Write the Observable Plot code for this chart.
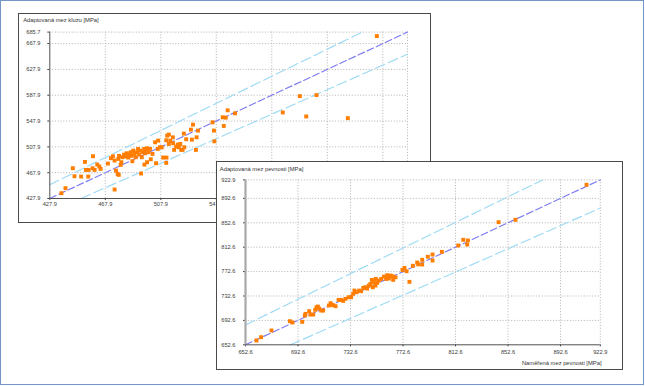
<!DOCTYPE html>
<html><head><meta charset="utf-8">
<script src="https://cdn.jsdelivr.net/npm/d3@7"></script>
<script src="https://cdn.jsdelivr.net/npm/@observablehq/plot@0.6"></script>
<style>
html,body{margin:0;padding:0;background:#fff;}
#page{position:relative;width:645px;height:386px;overflow:hidden;background:#fff;}
#border{position:absolute;left:0;top:0;width:644px;height:384.5px;box-sizing:border-box;border:1.5px solid #7396c6;}
.chart{position:absolute;background:#fff;}
.chart svg{display:block;outline:1.2px solid #4a4a4a;outline-offset:-1.2px;}
</style></head><body>
<div id="page"><div id="border"></div><div id="c1" class="chart" style="left:18px;top:13px"></div><div id="c2" class="chart" style="left:216px;top:161px"></div></div>
<script>
const kluzTicks = [427.9, 467.9, 507.9, 547.9, 587.9, 627.9, 667.9, 685.7];
const pevTicks = [652.6, 692.6, 732.6, 772.6, 812.6, 852.6, 892.6, 922.9];
const bandRatios = [0.95, 1, 1.05];
const kluzTitle = "Adaptovaná mez kluzu [MPa]";
const pevTitle = "Adaptovaná mez pevnosti [MPa]";
const pevXLabel = "Naměřená mez pevnosti [MPa]";

const kluzMeasured = [436.3,439.2,444.5,445.7,450.5,453.2,453.9,455.9,455.6,459.0,458.7,460.2,462.1,463.6,464.5,469.8,472.0,473.4,474.6,475.6,476.8,477.6,474.6,477.3,477.8,479.0,479.5,480.2,481.4,482.6,483.3,484.5,485.0,486.2,486.9,487.4,488.1,488.9,489.8,490.8,491.5,492.2,493.0,493.7,494.2,494.9,495.9,496.6,497.3,498.0,499.0,500.2,496.1,498.0,500.7,501.9,504.5,503.8,506.0,505.7,507.2,508.6,509.6,512.0,511.8,511.8,512.5,513.7,513.7,514.7,516.6,516.8,517.5,519.0,520.2,520.9,521.9,522.6,523.6,524.5,524.8,526.2,529.6,530.3,531.1,533.2,533.7,534.7,545.2,546.2,546.5,552.5,553.3,554.7,556.1,561.4,595.8,608.1,612.7,620.1,642.7,663.6];
const kluzAdapted = [436.1,443.9,474.8,462.4,461.9,484.6,472.2,472.2,461.9,493.4,474.8,472.2,480.5,477.4,473.8,482.0,490.3,493.4,441.8,471.2,466.0,464.5,486.7,489.2,493.9,480.0,484.1,491.8,495.9,492.8,498.0,491.3,495.9,499.6,493.9,485.6,502.1,497.0,491.8,499.6,504.7,495.9,502.1,466.6,491.8,499.6,504.7,498.0,503.2,505.7,499.6,504.7,480.5,484.1,488.7,497.0,482.5,515.0,517.6,504.7,507.3,507.3,491.3,491.3,483.1,518.1,525.3,526.9,512.4,517.6,522.7,513.5,503.2,508.3,511.4,507.3,512.4,503.2,503.2,528.4,507.3,519.7,534.6,519.1,542.3,503.2,522.7,533.1,545.9,533.1,516.5,553.7,540.3,553.2,564.5,559.9,561.2,586.5,555.0,588.1,552.4,679.5];

const pevMeasured = [661.0,664.5,672.4,686.4,688.4,695.8,697.8,698.3,701.1,702.1,704.2,705.7,706.7,707.7,708.7,710.3,711.8,716.1,717.4,718.1,719.4,721.2,723.5,725.5,727.0,728.8,731.3,733.1,734.6,735.6,737.2,739.2,740.7,742.3,744.0,745.3,746.6,747.8,748.9,749.6,750.4,751.6,751.9,752.9,754.2,756.0,758.0,759.8,760.5,761.8,763.1,764.6,765.1,766.9,772.2,773.7,775.3,777.5,780.1,783.4,784.2,787.2,787.2,791.5,795.1,795.1,802.2,814.7,818.5,821.5,822.0,845.4,858.3,912.4];
const pevAdapted = [659.7,665.1,676.1,691.3,689.2,690.2,700.6,703.3,707.7,702.2,702.2,709.9,714.2,715.3,712.1,708.8,708.8,717.0,720.8,718.6,717.5,715.9,726.2,726.2,724.6,727.9,730.6,730.6,736.1,741.5,738.8,741.5,740.4,745.9,747.0,744.8,749.7,752.4,759.0,747.0,755.2,749.7,760.6,754.1,757.9,760.6,764.4,760.6,766.6,761.2,766.1,765.0,759.0,763.3,775.3,778.6,773.2,755.8,782.1,787.5,784.5,791.9,784.2,796.9,800.6,790.8,805.0,815.4,824.7,817.0,823.6,853.6,857.5,914.9];

function makeChart(o) {
  const ticks = o.ticks, lo = ticks[0], hi = ticks[ticks.length - 1];
  const pts = o.xs.map((x, i) => ({x, y: o.ys[i]}));
  const fmt = d => d.toFixed(1);
  const lineMarks = bandRatios.map(r => {
    const x0 = Math.max(lo, lo / r), x1 = Math.min(hi, hi / r);
    const seg = [[x0, r * x0], [x1, r * x1]];
    return Plot.line(seg, {x: d => d[0], y: d => d[1],
      stroke: r === 1 ? "#7b7af2" : "#9cdaf5",
      strokeWidth: 1.15,
      strokeDasharray: r === 1 ? "7,3" : "10,4"});
  });
  const marks = [
    Plot.ruleX(ticks.slice(1), {stroke: "#b9b9b9", strokeDasharray: "1.1,1.7"}),
    Plot.ruleY(ticks.slice(1), {stroke: "#b9b9b9", strokeDasharray: "1.1,1.7"}),
    ...lineMarks,
    Plot.ruleY([lo], {stroke: "#505050", strokeWidth: 1}),
    Plot.ruleX([lo], o.yAxisStyle),
    Plot.dot(pts, {x: "x", y: "y", symbol: "square", r: 2.2, fill: "#ff7d00", stroke: "none"}),
    Plot.text([o.title], {text: d => d, frameAnchor: "top-left", textAnchor: "start", lineAnchor: "middle", dx: o.titleDx, dy: o.titleDy, fontSize: 5.8, fill: "#333"})
  ];
  if (o.xLabel) marks.push(Plot.text([o.xLabel], {text: d => d, frameAnchor: "bottom-right", textAnchor: "end", lineAnchor: "middle", dx: o.xLabelDx, dy: o.xLabelDy, fontSize: 5.8, fill: "#333"}));
  return Plot.plot({
    width: o.width, height: o.height,
    marginLeft: o.ml, marginRight: o.mr, marginTop: o.mt, marginBottom: o.mb,
    style: {fontFamily: "'Liberation Sans', Arial, sans-serif", fontSize: "5.7px", color: "#404040", background: "white"},
    x: {domain: [lo, hi], ticks, tickFormat: fmt, tickSize: 2, tickPadding: o.xPad, label: null},
    y: {domain: [lo, hi], ticks, tickFormat: fmt, tickSize: 2, tickPadding: o.yPad, label: null},
    marks
  });
}

document.getElementById("c1").appendChild(makeChart({
  width: 413, height: 210, ml: 31.3, mr: 24, mt: 18.6, mb: 25,
  ticks: kluzTicks, xs: kluzMeasured, ys: kluzAdapted,
  title: kluzTitle, titleDx: -26.6, titleDy: -11.6,
  xPad: 1.7, yPad: 7.3,
  yAxisStyle: {stroke: "#505050", strokeWidth: 1}
}));
document.getElementById("c2").appendChild(makeChart({
  width: 407, height: 209, ml: 29, mr: 23.2, mt: 18.4, mb: 25.7,
  ticks: pevTicks, xs: pevMeasured, ys: pevAdapted,
  title: pevTitle, titleDx: -25.7, titleDy: -11.1,
  xLabel: pevXLabel, xLabelDx: 1.2, xLabelDy: 18.4,
  xPad: 3.5, yPad: 8,
  yAxisStyle: {stroke: "#a8a8a8", strokeWidth: 2.2}
}));
</script>
</body></html>
